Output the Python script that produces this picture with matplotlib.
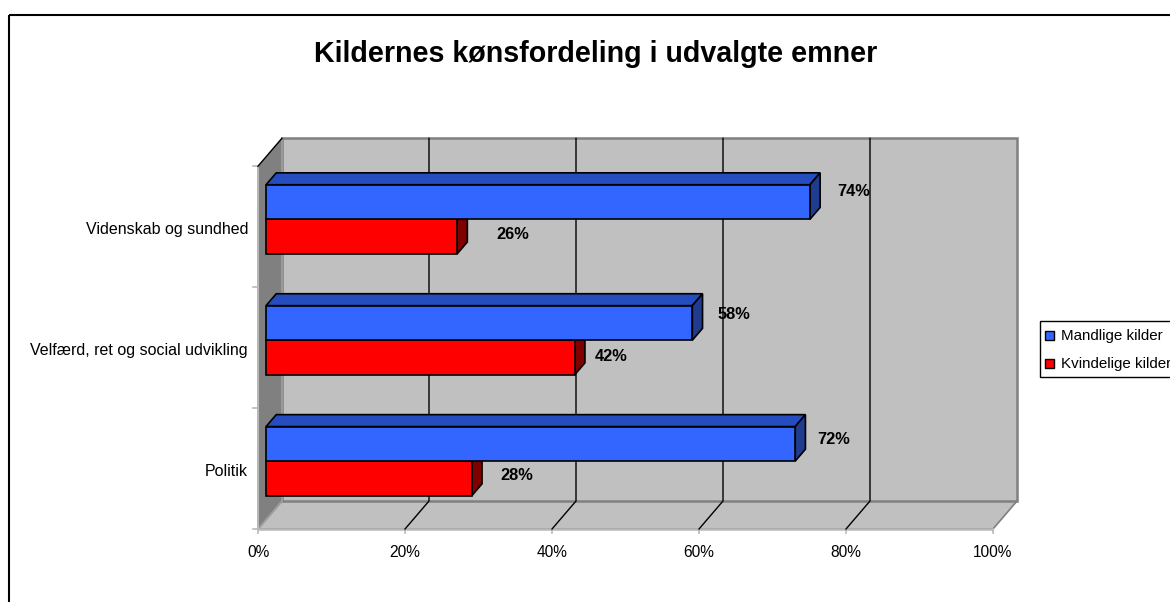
import matplotlib
matplotlib.use('Agg')
import matplotlib.pyplot as plt
from matplotlib.patches import Rectangle
from matplotlib.transforms import Affine2D

plt.rcParams['font.family'] = ['Liberation Sans', 'DejaVu Sans']

title = 'Kildernes kønsfordeling i udvalgte emner'
categories = ['Politik', 'Velfærd, ret og social udvikling', 'Videnskab og sundhed']
mandlige = [72, 58, 74]
kvindelige = [28, 42, 26]
ticks = [0, 20, 40, 60, 80, 100]
legend_names = ['Mandlige kilder', 'Kvindelige kilder']

# where excel put the value labels relative to the bars (uneven): percent units right, pixels up
mand_label_dx = [5.2, 5.7, 5.9]
kvin_label_dx = [6.1, 5.0, 7.6]
mand_label_up = [4, 8, 11]
kvin_label_up = [3, 1, 2]

W, H = 1170, 602
PX_X = 7.35     # pixels per percent
PX_Y = 120.9    # pixels per category
X0 = 258
Y0 = 470.5
DEPTH_X = 24 / PX_X
DEPTH_Y = 28 / PX_Y
FLOOR = -0.484
TOP = FLOOR + 3
BAR_H = 0.286
D0, D1 = 0.335, 0.76

fig = plt.figure(figsize=(W / 100, H / 100), dpi=100)
ax = fig.add_axes([0, 0, 1, 1])
ax.set_xlim(-X0 / PX_X, (W - X0) / PX_X)
ax.set_ylim((Y0 - H) / PX_Y, Y0 / PX_Y)
ax.axis('off')

px = Affine2D().scale(1, -1).translate(0, H)


def proj(v, c, d):
    return v + d * DEPTH_X, c + d * DEPTH_Y


def poly(pts, **kw):
    xs = [p[0] for p in pts]
    ys = [p[1] for p in pts]
    ax.fill(xs, ys, **kw)


# walls and floor
wall_line = '#808080'
poly([proj(0, FLOOR, 0), proj(100, FLOOR, 0), proj(100, FLOOR, 1), proj(0, FLOOR, 1)],
     fc='#c0c0c0', ec=wall_line, lw=1.2, zorder=1)
poly([proj(0, FLOOR, 1), proj(100, FLOOR, 1), proj(100, TOP, 1), proj(0, TOP, 1)],
     fc='#c0c0c0', ec=wall_line, lw=1.8, zorder=1)
poly([proj(0, FLOOR, 0), proj(0, FLOOR, 1), proj(0, TOP, 1), proj(0, TOP, 0)],
     fc='#808080', ec='#a0a0a0', lw=1.2, zorder=1)
ax.plot([0, 100], [FLOOR, FLOOR], color='#b8b8b8', lw=1.8, zorder=2, solid_capstyle='butt')
ax.plot([0, 0], [FLOOR, TOP], color='#b8b8b8', lw=1.4, zorder=2, solid_capstyle='butt')

# gridlines, the 100% one is the gray wall edge
for t in ticks[1:-1]:
    x1, y1 = proj(t, FLOOR, 0)
    x2, y2 = proj(t, FLOOR, 1)
    x3, y3 = proj(t, TOP, 1)
    ax.plot([x1, x2, x3], [y1, y2, y3], color='black', lw=1.0, zorder=3)
x1, y1 = proj(0, TOP, 0)
x2, y2 = proj(0, TOP, 1)
ax.plot([x1, x2], [y1, y2], color='black', lw=1.0, zorder=3)

# tick marks and labels
for t in ticks:
    ax.plot([t, t], [FLOOR, FLOOR - 4 / PX_Y], color='#b8b8b8', lw=1.2, zorder=2)
    ax.text(t, FLOOR - 23 / PX_Y, f'{t}%', ha='center', va='center', fontsize=11.2, color='black')
for k in range(4):
    ax.plot([-5 / PX_X, 0], [FLOOR + k, FLOOR + k], color='#b8b8b8', lw=1.2, zorder=2)
for i, cat in enumerate(categories):
    ax.text(-10 / PX_X, i - 1 / PX_Y, cat, ha='right', va='center', fontsize=11.5, color='black')


def draw_bar(val, low, z, front, top, side):
    high = low + BAR_H
    style = dict(ec='black', lw=1.2, joinstyle='miter', zorder=z)
    poly([proj(0, high, D0), proj(val, high, D0), proj(val, high, D1), proj(0, high, D1)], fc=top, **style)
    poly([proj(val, low, D0), proj(val, low, D1), proj(val, high, D1), proj(val, high, D0)], fc=side, **style)
    poly([proj(0, low, D0), proj(val, low, D0), proj(val, high, D0), proj(0, high, D0)], fc=front, **style)


for i in range(3):
    draw_bar(kvindelige[i], i - BAR_H, 4 + i * 0.1, '#ff0000', '#800000', '#800000')
    draw_bar(mandlige[i], i, 5 + i * 0.1, '#3366ff', '#264dbf', '#1f3c8f')
    x, y = proj(mandlige[i] + mand_label_dx[i], i + BAR_H / 2 + mand_label_up[i] / PX_Y, D0)
    ax.text(x, y, f'{mandlige[i]}%', ha='center', va='center', fontsize=11.8, fontweight='bold', zorder=8)
    x, y = proj(kvindelige[i] + kvin_label_dx[i], i - BAR_H / 2 + kvin_label_up[i] / PX_Y, D0)
    ax.text(x, y, f'{kvindelige[i]}%', ha='center', va='center', fontsize=11.8, fontweight='bold', zorder=8)

# frame, title and legend are placed in pixels
fig.add_artist(Rectangle((8.5, 14.5), 1300, 800, transform=px, fc='none', ec='black', lw=1.5))
fig.text(596, 54, title, transform=px, ha='center', va='center', fontsize=20.6, fontweight='bold')

fig.add_artist(Rectangle((1039.5, 320.5), 300, 56, transform=px, fc='white', ec='black', lw=1.0))
for name, color, yy in zip(legend_names, ['#3366ff', '#ff0000'], [335, 363]):
    fig.add_artist(Rectangle((1045, yy - 4.5), 9, 9, transform=px, fc=color, ec='black', lw=1.0))
    fig.text(1061, yy + 1, name, transform=px, ha='left', va='center', fontsize=10.9)

fig.savefig('out.png', dpi=100)
